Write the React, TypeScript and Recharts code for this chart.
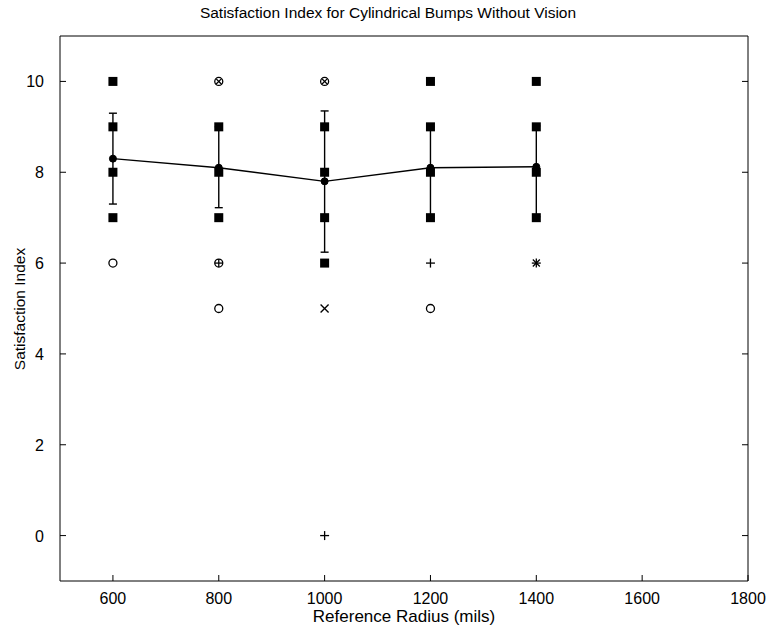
import {
  ComposedChart,
  Scatter,
  Line,
  ErrorBar,
  XAxis,
  YAxis,
} from 'recharts'

// mean satisfaction per reference radius
const RADII = [600, 800, 1000, 1200, 1400]
const MEAN = [8.3, 8.1, 7.8, 8.1, 8.12]
const ERR_LOW = [1.0, 0.88, 1.56, 1.1, 1.1]
const ERR_HIGH = [1.0, 0.9, 1.55, 0.9, 0.9]

// individual ratings, grouped by marker
const SQUARE_PTS: [number, number][] = [
  [600, 10], [600, 9], [600, 8], [600, 7],
  [800, 9], [800, 8], [800, 7],
  [1000, 9], [1000, 8], [1000, 7], [1000, 6],
  [1200, 10], [1200, 9], [1200, 8], [1200, 7],
  [1400, 10], [1400, 9], [1400, 8], [1400, 7],
]
const CIRCLE_PTS: [number, number][] = [[600, 6], [800, 5], [1200, 5]]
const CIRCLE_X_PTS: [number, number][] = [[800, 10], [1000, 10]]
const CIRCLE_PLUS_PTS: [number, number][] = [[800, 6]]
const X_PTS: [number, number][] = [[1000, 5]]
const PLUS_PTS: [number, number][] = [[1000, 0], [1200, 6]]
const STAR_PTS: [number, number][] = [[1400, 6]]

const X_TICKS = [600, 800, 1000, 1200, 1400, 1600, 1800]
const Y_TICKS = [0, 2, 4, 6, 8, 10]

const FONT = '"Liberation Sans", Arial, Helvetica, sans-serif'
const TICK_LEN = 6
const X_GAP = 10
const Y_GAP = 6

const toPts = (pts: [number, number][]) => pts.map(([x, y]) => ({ x, y }))

const meanData = RADII.map((x, i) => ({ x, y: MEAN[i], err: [ERR_LOW[i], ERR_HIGH[i]] }))

// tick renderers: inward tick mark plus label (MATLAB style)
const BottomTick = (p: any) => (
  <g>
    <line x1={p.x} y1={p.y - X_GAP} x2={p.x} y2={p.y - X_GAP - TICK_LEN} stroke="#000" />
    <text x={p.x} y={p.y + 13} textAnchor="middle" fontSize={16} fontFamily={FONT} fill="#000">
      {p.payload.value}
    </text>
  </g>
)
const LeftTick = (p: any) => (
  <g>
    <line x1={p.x + Y_GAP} y1={p.y} x2={p.x + Y_GAP + TICK_LEN} y2={p.y} stroke="#000" />
    <text x={p.x - 10} y={p.y + 6} textAnchor="end" fontSize={16} fontFamily={FONT} fill="#000">
      {p.payload.value}
    </text>
  </g>
)
const TopTick = (p: any) => (
  <line x1={p.x} y1={p.y} x2={p.x} y2={p.y + TICK_LEN} stroke="#000" />
)
const RightTick = (p: any) => (
  <line x1={p.x} y1={p.y} x2={p.x - TICK_LEN} y2={p.y} stroke="#000" />
)

const S = 1.3
const square = (p: any) => (
  <rect x={p.cx - 4.5} y={p.cy - 4.5} width={9} height={9} fill="#000" />
)
const circle = (p: any) => (
  <circle cx={p.cx} cy={p.cy} r={4} fill="#fff" stroke="#000" strokeWidth={S} />
)
const xLines = (cx: number, cy: number, r: number) => (
  <>
    <line x1={cx - r} y1={cy - r} x2={cx + r} y2={cy + r} stroke="#000" strokeWidth={S} />
    <line x1={cx - r} y1={cy + r} x2={cx + r} y2={cy - r} stroke="#000" strokeWidth={S} />
  </>
)
const plusLines = (cx: number, cy: number, r: number) => (
  <>
    <line x1={cx - r} y1={cy} x2={cx + r} y2={cy} stroke="#000" strokeWidth={S} />
    <line x1={cx} y1={cy - r} x2={cx} y2={cy + r} stroke="#000" strokeWidth={S} />
  </>
)
const circleX = (p: any) => (
  <g>
    <circle cx={p.cx} cy={p.cy} r={4} fill="#fff" stroke="#000" strokeWidth={S} />
    {xLines(p.cx, p.cy, 2.8)}
  </g>
)
const circlePlus = (p: any) => (
  <g>
    <circle cx={p.cx} cy={p.cy} r={4} fill="#fff" stroke="#000" strokeWidth={S} />
    {plusLines(p.cx, p.cy, 4)}
  </g>
)
const xMark = (p: any) => <g>{xLines(p.cx, p.cy, 4)}</g>
const plus = (p: any) => <g>{plusLines(p.cx, p.cy, 4.5)}</g>
const star = (p: any) => (
  <g>
    {xLines(p.cx, p.cy, 3.5)}
    {plusLines(p.cx, p.cy, 4.5)}
  </g>
)

export default function App() {
  return (
    <div style={{ position: 'absolute', left: 0, top: 0, width: 776, height: 632, background: '#fff', fontFamily: FONT }}>
      <div style={{ position: 'absolute', left: 0, top: 4, width: 776, textAlign: 'center', fontSize: 15.5, lineHeight: '18px' }}>
        Satisfaction Index for Cylindrical Bumps Without Vision
      </div>
      <div
        style={{
          position: 'absolute',
          left: 20,
          top: 309,
          transform: 'translate(-50%, -50%) rotate(-90deg)',
          whiteSpace: 'nowrap',
          fontSize: 15.5,
          lineHeight: '18px',
        }}
      >
        Satisfaction Index
      </div>
      <div style={{ position: 'absolute', left: 60, top: 607, width: 688, textAlign: 'center', fontSize: 17, lineHeight: '20px' }}>
        Reference Radius (mils)
      </div>

      <ComposedChart width={776} height={632} margin={{ top: 35, right: 27, left: 20, bottom: 0 }}>
        <XAxis
          xAxisId="b"
          dataKey="x"
          type="number"
          domain={[500, 1800]}
          ticks={X_TICKS}
          interval={0}
          allowDataOverflow
          height={51}
          tickLine={false}
          tickSize={0}
          tickMargin={X_GAP}
          tick={<BottomTick />}
          stroke="#000"
        />
        <XAxis
          xAxisId="t"
          orientation="top"
          type="number"
          domain={[500, 1800]}
          ticks={X_TICKS}
          interval={0}
          allowDataOverflow
          height={1}
          tickLine={false}
          tickSize={0}
          tickMargin={0}
          tick={<TopTick />}
          stroke="#000"
        />
        <YAxis
          yAxisId="l"
          dataKey="y"
          type="number"
          domain={[-1, 11]}
          ticks={Y_TICKS}
          interval={0}
          allowDataOverflow
          width={40}
          tickLine={false}
          tickSize={0}
          tickMargin={Y_GAP}
          tick={<LeftTick />}
          stroke="#000"
        />
        <YAxis
          yAxisId="r"
          orientation="right"
          type="number"
          domain={[-1, 11]}
          ticks={Y_TICKS}
          interval={0}
          allowDataOverflow
          width={1}
          tickLine={false}
          tickSize={0}
          tickMargin={0}
          tick={<RightTick />}
          stroke="#000"
        />

        <Line
          xAxisId="b"
          yAxisId="l"
          data={meanData}
          dataKey="y"
          type="linear"
          stroke="#000"
          strokeWidth={1.4}
          dot={{ r: 3.5, fill: '#000', stroke: '#000', strokeWidth: 1 }}
          activeDot={false}
          isAnimationActive={false}
        >
          <ErrorBar dataKey="err" width={4} stroke="#000" strokeWidth={1.4} direction="y" />
        </Line>

        <Scatter xAxisId="b" yAxisId="l" data={toPts(SQUARE_PTS)} dataKey="y" shape={square} isAnimationActive={false} />
        <Scatter xAxisId="b" yAxisId="l" data={toPts(CIRCLE_PTS)} dataKey="y" shape={circle} isAnimationActive={false} />
        <Scatter xAxisId="b" yAxisId="l" data={toPts(CIRCLE_X_PTS)} dataKey="y" shape={circleX} isAnimationActive={false} />
        <Scatter xAxisId="b" yAxisId="l" data={toPts(CIRCLE_PLUS_PTS)} dataKey="y" shape={circlePlus} isAnimationActive={false} />
        <Scatter xAxisId="b" yAxisId="l" data={toPts(X_PTS)} dataKey="y" shape={xMark} isAnimationActive={false} />
        <Scatter xAxisId="b" yAxisId="l" data={toPts(PLUS_PTS)} dataKey="y" shape={plus} isAnimationActive={false} />
        <Scatter xAxisId="b" yAxisId="l" data={toPts(STAR_PTS)} dataKey="y" shape={star} isAnimationActive={false} />
      </ComposedChart>
    </div>
  )
}
